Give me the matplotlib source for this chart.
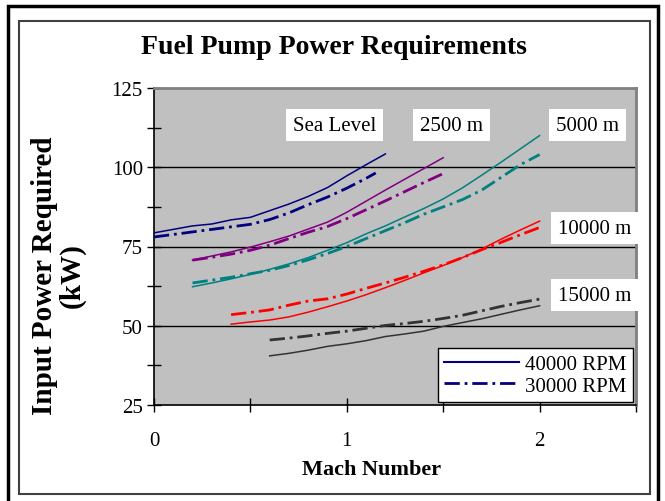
import matplotlib
matplotlib.use("Agg")
import matplotlib.pyplot as plt
from matplotlib.lines import Line2D
from matplotlib.patches import Rectangle

plt.rcParams['font.family'] = ['Liberation Serif', 'DejaVu Serif']
plt.rcParams['lines.scale_dashes'] = False

# data (Mach number -> input power, kW)
mach_sl = [0.0, 0.1, 0.2, 0.3, 0.4, 0.5, 0.6, 0.7, 0.8, 0.9, 1.0, 1.1, 1.2]
sl_40k = [79.3, 80.4, 81.5, 82.1, 83.4, 84.2, 86.3, 88.4, 90.8, 93.6, 97.3, 100.8, 104.2]
mach_sl_30 = [0.0, 0.1, 0.2, 0.3, 0.4, 0.5, 0.6, 0.7, 0.8, 0.9, 1.0, 1.1, 1.15]
sl_30k = [78.0, 78.8, 79.6, 80.4, 81.2, 82.0, 83.5, 85.6, 88.2, 90.6, 93.4, 96.5, 98.2]

mach_2500 = [0.2, 0.3, 0.4, 0.5, 0.6, 0.7, 0.8, 0.9, 1.0, 1.1, 1.2, 1.3, 1.4, 1.5]
m2500_40k = [70.7, 72.0, 73.3, 74.8, 76.5, 78.3, 80.5, 82.7, 85.8, 89.3, 92.8, 96.2, 99.6, 103.0]
m2500_30k = [70.7, 71.6, 72.6, 73.8, 75.4, 77.5, 79.5, 81.3, 83.8, 86.6, 89.4, 92.3, 95.2, 98.0]

mach_5000 = [0.2, 0.3, 0.4, 0.5, 0.6, 0.7, 0.8, 0.9, 1.0, 1.1, 1.2, 1.3, 1.4, 1.5,
             1.6, 1.7, 1.8, 1.9, 2.0]
m5000_40k = [62.3, 63.5, 64.8, 66.2, 67.8, 69.5, 71.5, 73.8, 76.2, 79.0, 81.5, 84.3,
             87.0, 90.0, 93.5, 97.5, 101.6, 105.8, 110.0]
m5000_30k = [63.5, 64.4, 65.3, 66.4, 67.5, 69.0, 70.8, 72.8, 75.0, 77.5, 80.0, 82.5,
             85.2, 87.5, 89.8, 92.8, 96.8, 100.8, 104.0]

mach_10000 = [0.4, 0.5, 0.6, 0.7, 0.8, 0.9, 1.0, 1.1, 1.2, 1.3, 1.4, 1.5, 1.6, 1.7,
              1.8, 1.9, 2.0]
m10000_40k = [50.5, 51.2, 51.8, 52.8, 54.3, 56.0, 57.8, 59.8, 62.0, 64.3, 66.7, 69.0,
              71.5, 74.2, 77.3, 80.2, 83.0]
m10000_30k = [53.5, 54.2, 55.0, 56.5, 57.8, 58.5, 60.0, 61.8, 63.5, 65.3, 67.2, 69.2,
              71.5, 74.0, 76.3, 78.7, 81.0]

mach_15000 = [0.6, 0.7, 0.8, 0.9, 1.0, 1.1, 1.2, 1.3, 1.4, 1.5, 1.6, 1.7, 1.8, 1.9, 2.0]
m15000_40k = [40.5, 41.3, 42.3, 43.5, 44.3, 45.3, 46.6, 47.4, 48.3, 49.8, 51.0, 52.2,
              53.6, 55.0, 56.3]
m15000_30k = [45.5, 46.1, 46.8, 47.6, 48.3, 49.2, 50.1, 50.7, 51.4, 52.3, 53.3, 54.7,
              56.1, 57.3, 58.4]

altitude_labels = ["Sea Level", "2500 m", "5000 m", "10000 m", "15000 m"]
label_pos = [(0.938, 113.3), (1.543, 113.3), (2.25, 113.3), (2.287, 80.8), (2.287, 59.7)]
legend_labels = ["40000 RPM", "30000 RPM"]

DASHDOT = (0, (11, 3.5, 2, 3.5))


def main():
    fig = plt.figure(figsize=(6.65, 5.02), dpi=100)
    W, H = 665.0, 502.0
    ax = fig.add_axes([154 / W, 1 - 406 / H, (636 - 154) / W, (406 - 89) / H])
    ax.set_facecolor("#c0c0c0")

    series = [
        (mach_sl, sl_40k, mach_sl_30, sl_30k, "#000080"),
        (mach_2500, m2500_40k, mach_2500, m2500_30k, "#800080"),
        (mach_5000, m5000_40k, mach_5000, m5000_30k, "#008080"),
        (mach_10000, m10000_40k, mach_10000, m10000_30k, "#ff0000"),
        (mach_15000, m15000_40k, mach_15000, m15000_30k, "#333333"),
    ]
    for x1, y1, x2, y2, c in series:
        ax.plot(x1, y1, color=c, lw=1.1, zorder=3)
        ax.plot(x2, y2, color=c, lw=2.0, linestyle=DASHDOT, zorder=3)

    ax.set_xlim(0, 2.5)
    ax.set_ylim(25, 125)
    ax.set_xticks([0, 0.5, 1, 1.5, 2, 2.5])
    ax.set_xticklabels(["0", "", "1", "", "2", ""])
    ax.set_yticks([25, 37.5, 50, 62.5, 75, 87.5, 100, 112.5, 125])
    ax.set_yticklabels(["25", "", "50", "", "75", "", "100", "", "125"])
    ax.tick_params(axis="x", direction="inout", length=10, width=1, labelsize=15, pad=14)
    ax.tick_params(axis="y", direction="inout", length=10, width=1, labelsize=15, pad=3)

    for v in [50, 75, 100]:
        ax.axhline(v, color="black", lw=1, zorder=1)

    for s in ["top", "right"]:
        ax.spines[s].set_color("#808080")
        ax.spines[s].set_linewidth(2)
    for s in ["left", "bottom"]:
        ax.spines[s].set_color("black")
        ax.spines[s].set_linewidth(1.2)

    for txt, (x, y) in zip(altitude_labels, label_pos):
        ax.text(x, y, txt, fontsize=15, ha="center", va="center", zorder=5,
                bbox=dict(facecolor="white", edgecolor="none", pad=5), clip_on=False)

    handles = [Line2D([], [], color="#000080", lw=1.5),
               Line2D([], [], color="#000080", lw=2.0, linestyle=DASHDOT)]
    leg = ax.legend(handles, legend_labels, loc="lower right", fontsize=15,
                    handlelength=3.6, handletextpad=0.3, borderpad=0.3,
                    labelspacing=0.1, borderaxespad=0.15, fancybox=False,
                    framealpha=1, edgecolor="black")
    leg.get_frame().set_linewidth(1)

    fig.text(333.5 / W, 1 - 47 / H, "Fuel Pump Power Requirements",
             fontsize=20, fontweight="bold", ha="center", va="center")
    fig.text(372 / W, 1 - 470 / H, "Mach Number",
             fontsize=16, fontweight="bold", ha="center", va="center")
    fig.text(58.5 / W, 1 - 276 / H, "Input Power Required\n(kW)", rotation=90,
             fontsize=21, fontweight="bold", ha="center", va="center",
             multialignment="center", linespacing=1.05)

    # chart frames
    fig.patches.append(Rectangle((19 / W, 1 - 495 / H), (650 - 19) / W, (495 - 22) / H,
                                 transform=fig.transFigure, fill=False,
                                 edgecolor="#404040", lw=1.5))
    fig.patches.append(Rectangle((8 / W, -0.05), (658 - 8) / W, 1.05 - 7 / H,
                                 transform=fig.transFigure, fill=False,
                                 edgecolor="black", lw=2.5))

    fig.savefig("out.png", dpi=100, facecolor="white")


main()
